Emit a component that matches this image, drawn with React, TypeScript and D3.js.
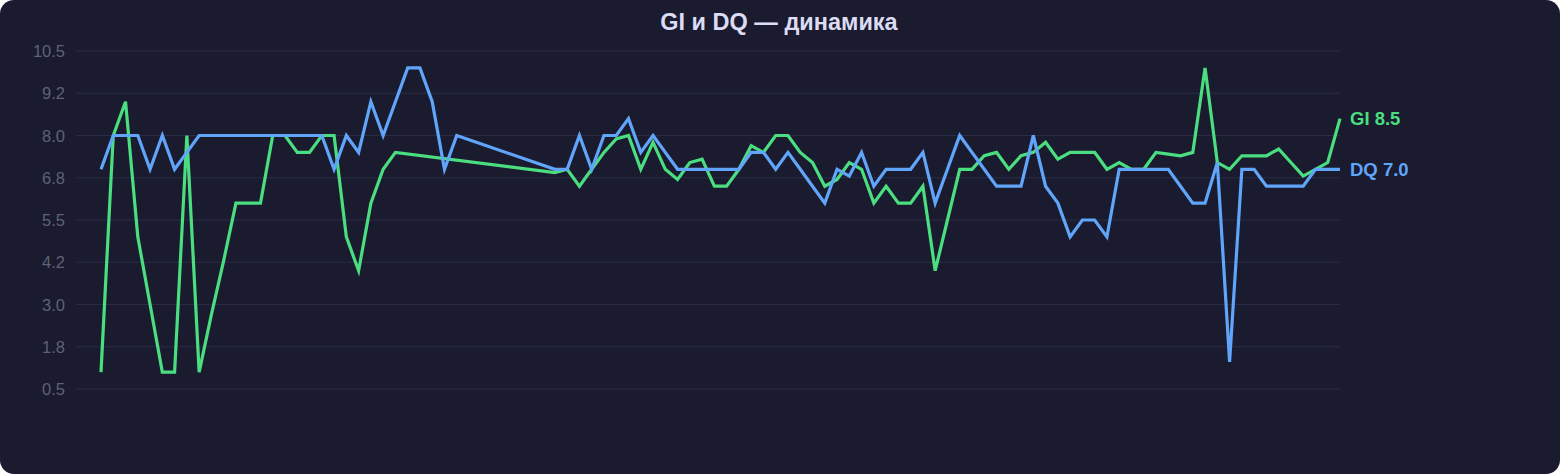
import { useMemo } from "react";
import * as d3 from "d3";

const TITLE = "GI и DQ — динамика";

// daily series, null = no entry for that day
const gi: (number | null)[] = [
  1.0, 8.0, 9.0, 5.0, 3.0, 1.0, 1.0, 8.0, 1.0, 2.7,
  4.3, 6.0, 6.0, 6.0, 8.0, 8.0, 7.5, 7.5, 8.0, 8.0,
  5.0, 4.0, 6.0, 7.0, 7.5, null, null, null, null, null,
  null, null, null, null, null, null, null, 6.9, 7.0, 6.5,
  7.0, 7.5, 7.9, 8.0, 7.0, 7.8, 7.0, 6.7, 7.2, 7.3,
  6.5, 6.5, 7.0, 7.7, 7.5, 8.0, 8.0, 7.5, 7.2, 6.5,
  6.7, 7.2, 7.0, 6.0, 6.5, 6.0, 6.0, 6.5, 4.0, 5.5,
  7.0, 7.0, 7.4, 7.5, 7.0, 7.4, 7.5, 7.8, 7.3, 7.5,
  7.5, 7.5, 7.0, 7.2, 7.0, 7.0, 7.5, 7.45, 7.4, 7.5,
  10.0, 7.2, 7.0, 7.4, 7.4, 7.4, 7.6, 7.2, 6.8, 7.0,
  7.2, 8.5,
];

const dq: (number | null)[] = [
  7.0, 8.0, 8.0, 8.0, 7.0, 8.0, 7.0, 7.5, 8.0, 8.0,
  8.0, 8.0, 8.0, 8.0, 8.0, 8.0, 8.0, 8.0, 8.0, 7.0,
  8.0, 7.5, 9.0, 8.0, 9.0, 10.0, 10.0, 9.0, 7.0, 8.0,
  null, null, null, null, null, null, null, 7.0, 7.0, 8.0,
  7.0, 8.0, 8.0, 8.5, 7.5, 8.0, 7.5, 7.0, 7.0, 7.0,
  7.0, 7.0, 7.0, 7.5, 7.5, 7.0, 7.5, 7.0, 6.5, 6.0,
  7.0, 6.8, 7.5, 6.5, 7.0, 7.0, 7.0, 7.5, 6.0, 7.0,
  8.0, 7.5, 7.0, 6.5, 6.5, 6.5, 8.0, 6.5, 6.0, 5.0,
  5.5, 5.5, 5.0, 7.0, 7.0, 7.0, 7.0, 7.0, 6.5, 6.0,
  6.0, 7.2, 1.3, 7.0, 7.0, 6.5, 6.5, 6.5, 6.5, 7.0,
  7.0, 7.0,
];

const yTickValues = [0.5, 1.75, 3.0, 4.25, 5.5, 6.75, 8.0, 9.25, 10.5];
const yTickLabels = ["0.5", "1.8", "3.0", "4.2", "5.5", "6.8", "8.0", "9.2", "10.5"];

const series = [
  { name: "GI", values: gi, color: "#4ade80" },
  { name: "DQ", values: dq, color: "#60a5fa" },
];

const W = 1560;
const H = 474;
const FONT = "'Liberation Sans', Arial, sans-serif";

export default function App() {
  const x = d3.scaleLinear().domain([0, gi.length - 1]).range([101, 1340]);
  const y = d3.scaleLinear().domain([0.5, 10.5]).range([389, 51]);

  const paths = useMemo(() => {
    return series.map((s) => {
      const pts: [number, number][] = [];
      s.values.forEach((v, i) => {
        if (v != null) pts.push([x(i), y(v)]);
      });
      const last = s.values[s.values.length - 1] as number;
      return { ...s, d: d3.line()(pts) || "", last };
    });
  }, []);

  return (
    <svg
      width={W}
      height={H}
      style={{ position: "absolute", left: 0, top: 0, fontFamily: FONT }}
    >
      <rect x={0} y={0} width={W} height={H} rx={14} fill="#1a1b2e" />
      <text
        x={779}
        y={30}
        textAnchor="middle"
        fill="#dcdcf4"
        fontSize={23.5}
        fontWeight="bold"
      >
        {TITLE}
      </text>

      {yTickValues.map((v, i) => (
        <g key={v}>
          <line x1={76} x2={1340} y1={y(v)} y2={y(v)} stroke="#2a2c47" strokeWidth={1} />
          <text x={65} y={y(v) + 6} textAnchor="end" fill="#5e6277" fontSize={16.5}>
            {yTickLabels[i]}
          </text>
        </g>
      ))}

      {paths.map((p) => (
        <path key={p.name} d={p.d} fill="none" stroke={p.color} strokeWidth={3.2} />
      ))}

      {paths.map((p) => (
        <text
          key={p.name + "-label"}
          x={1350}
          y={y(p.last) + 6.5}
          fill={p.color}
          fontSize={18.5}
          fontWeight="bold"
        >
          {`${p.name} ${p.last.toFixed(1)}`}
        </text>
      ))}
    </svg>
  );
}
